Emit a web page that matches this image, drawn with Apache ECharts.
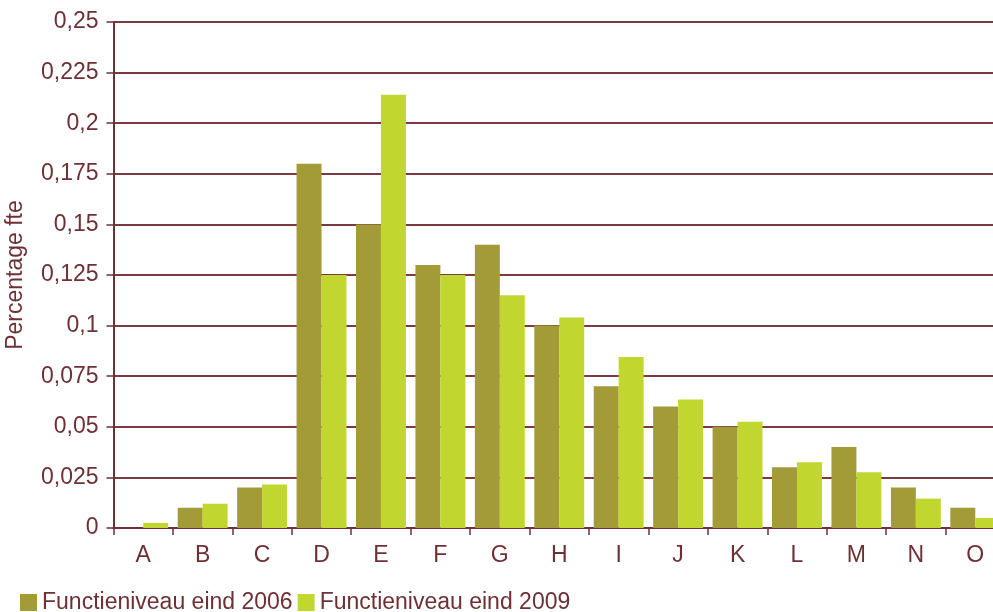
<!DOCTYPE html>
<html>
<head>
<meta charset="utf-8">
<script src="https://cdn.jsdelivr.net/npm/echarts@6/dist/echarts.min.js"></script>
<style>
  html, body { margin: 0; padding: 0; background: #fff; }
  #chart { width: 993px; height: 612px; }
</style>
</head>
<body>
<div id="chart"></div>
<script>
// categorieën en waarden
const categories = ["A", "B", "C", "D", "E", "F", "G", "H", "I", "J", "K", "L", "M", "N", "O"];
const niveau2006 = [0, 0.01, 0.02, 0.18, 0.15, 0.13, 0.14, 0.1, 0.07, 0.06, 0.05, 0.03, 0.04, 0.02, 0.01];
const niveau2009 = [0.0025, 0.012, 0.0215, 0.125, 0.214, 0.125, 0.115, 0.104, 0.0845, 0.0635, 0.0525, 0.0325, 0.0275, 0.0145, 0.005];

const textColor = "#6e3034";
const fontFamily = "'Liberation Sans', Arial, sans-serif";

const chart = echarts.init(document.getElementById("chart"));
chart.setOption({
  animation: false,
  textStyle: { fontFamily: fontFamily, color: textColor },
  grid: {
    left: 113.5,
    right: -12,
    top: 22,
    bottom: 84,
    outerBoundsMode: "none",
    containLabel: false,
  },
  legend: {
    left: 15,
    top: 586,
    itemWidth: 17,
    itemHeight: 17,
    itemGap: 5,
    icon: "rect",
    textStyle: { fontSize: 23, color: textColor, fontFamily: fontFamily },
    data: ["Functieniveau eind 2006", "Functieniveau eind 2009"],
  },
  xAxis: {
    type: "category",
    data: categories,
    axisLine: { lineStyle: { color: textColor, width: 2 } },
    axisTick: { show: true, length: 7, lineStyle: { color: textColor, width: 1.5 } },
    axisLabel: { fontSize: 23, color: textColor, margin: 16 },
  },
  yAxis: {
    type: "value",
    min: 0,
    max: 0.25,
    interval: 0.025,
    name: "Percentage fte",
    nameLocation: "middle",
    nameGap: 86,
    nameTextStyle: { fontSize: 23, color: textColor },
    axisLine: { show: true, lineStyle: { color: textColor, width: 2 } },
    axisTick: { show: true, length: 7, lineStyle: { color: textColor, width: 1.5 } },
    axisLabel: {
      fontSize: 23,
      color: textColor,
      margin: 15,
      formatter: (v) => String(+v.toFixed(3)).replace(".", ","),
    },
    splitLine: { lineStyle: { color: "#7a3a3e", width: 1.8 } },
  },
  series: [
    {
      name: "Functieniveau eind 2006",
      type: "bar",
      data: niveau2006,
      barGap: "0%",
      barCategoryGap: "16%",
      itemStyle: { color: "#a29b38" },
    },
    {
      name: "Functieniveau eind 2009",
      type: "bar",
      data: niveau2009,
      itemStyle: { color: "#c2d630" },
    },
  ],
});
</script>
</body>
</html>
